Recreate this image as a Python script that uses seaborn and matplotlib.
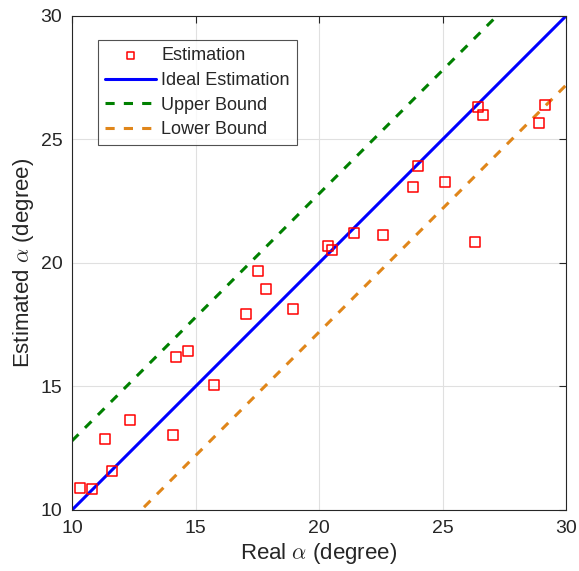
import numpy as np
import pandas as pd
import matplotlib
matplotlib.use("Agg")
import matplotlib.pyplot as plt
import seaborn as sns

real_alpha = [10.32, 10.81, 11.62, 11.34, 12.35, 14.09, 14.21, 14.70, 15.75, 17.04,
              17.53, 17.85, 18.95, 20.36, 20.53, 21.42, 22.59, 23.81, 24.01, 25.10,
              26.32, 26.44, 26.64, 28.91, 29.15]
est_alpha = [10.89, 10.85, 11.58, 12.87, 13.64, 13.04, 16.19, 16.44, 15.06, 17.94,
             19.68, 18.95, 18.14, 20.69, 20.53, 21.21, 21.13, 23.08, 23.93, 23.28,
             20.85, 26.32, 25.99, 25.67, 26.40]
line_x = [10, 30]
ideal_y = [10, 30]
upper_y = [12.8, 32.8]
lower_y = [7.2, 27.2]
x_ticks = [10, 15, 20, 25, 30]
y_ticks = [10, 15, 20, 25, 30]

sns.set_style("white")
plt.rcParams['font.family'] = ['Liberation Sans', 'DejaVu Sans']
plt.rcParams['mathtext.fontset'] = 'cm'

fig = plt.figure(figsize=(5.79, 5.71), dpi=100)
ax = fig.add_axes([72/579, 61/571, 494/579, 494/571])

pts = pd.DataFrame({"x": real_alpha, "y": est_alpha})
sns.scatterplot(data=pts, x="x", y="y", ax=ax, marker="s", s=48,
                facecolors="none", edgecolor="#ff0000", linewidth=1.1,
                label="Estimation", zorder=5)
lines = pd.DataFrame({"x": line_x, "ideal": ideal_y, "upper": upper_y, "lower": lower_y})
sns.lineplot(data=lines, x="x", y="ideal", ax=ax, color="#0000ff", lw=2.2,
             label="Ideal Estimation")
sns.lineplot(data=lines, x="x", y="upper", ax=ax, color="#008000", lw=2.2,
             linestyle=(0, (3, 3)), label="Upper Bound")
sns.lineplot(data=lines, x="x", y="lower", ax=ax, color="#e0861a", lw=2.2,
             linestyle=(0, (3, 3)), label="Lower Bound")

ax.set_xlim(10, 30)
ax.set_ylim(10, 30)
ax.set_xticks(x_ticks)
ax.set_yticks(y_ticks)
ax.grid(True, color="#e0e0e0", lw=0.8)
ax.set_axisbelow(True)
for sp in ax.spines.values():
    sp.set_color("#262626")
    sp.set_linewidth(0.8)
ax.tick_params(direction="in", length=5, width=0.8, top=True, right=True,
               labelsize=14, colors="#262626", pad=7)
ax.set_xlabel(r"Real $\alpha$ (degree)", fontsize=16, color="#262626", labelpad=3)
ax.set_ylabel(r"Estimated $\alpha$ (degree)", fontsize=16, color="#262626", labelpad=3)

leg = ax.legend(loc="upper left", bbox_to_anchor=(0.053, 0.951), fontsize=13,
                frameon=True, fancybox=False, handlelength=2.8, handletextpad=0.3,
                borderpad=0.4, labelspacing=0.42, markerscale=0.75,
                borderaxespad=0)
leg.get_frame().set_edgecolor("#262626")
leg.get_frame().set_linewidth(0.8)

fig.savefig("out.png", dpi=100)
